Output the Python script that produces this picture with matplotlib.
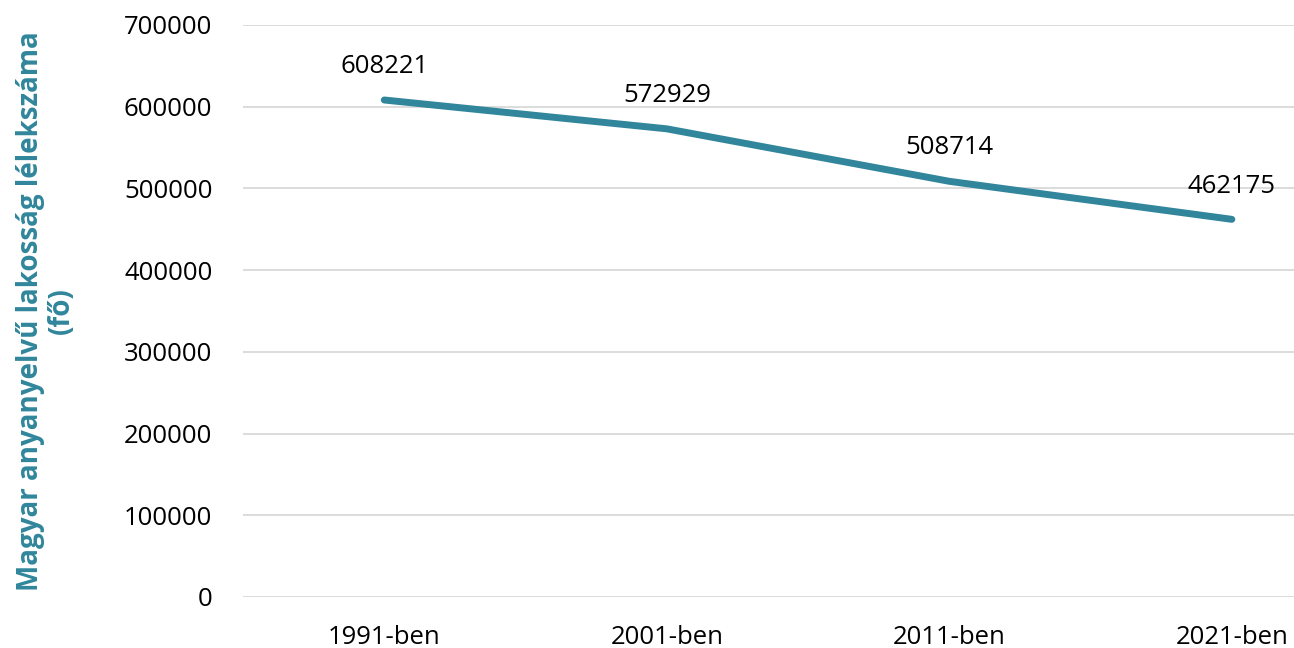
import matplotlib.pyplot as plt

# data
years = ['1991-ben', '2001-ben', '2011-ben', '2021-ben']
population = [608221, 572929, 508714, 462175]
yticks = [0, 100000, 200000, 300000, 400000, 500000, 600000, 700000]

teal = '#31869b'
plt.rcParams['font.family'] = ['Open Sans', 'DejaVu Sans']

fig = plt.figure(figsize=(12.94, 6.48), dpi=100)
ax = fig.add_axes([243 / 1294, 1 - 597 / 648, 1 - 243 / 1294, (597 - 25) / 648])

x = list(range(len(years)))
ax.plot(x, population, color=teal, linewidth=5, solid_capstyle='round', zorder=3)
for xi, v in zip(x, population):
    ax.annotate(str(v), (xi, v), xytext=(0, 15), textcoords='offset points',
                ha='center', va='bottom', fontsize=18.5, color='black')

ax.set_xlim(-0.5, 3.22)
ax.set_ylim(0, 700000)
ax.set_yticks(yticks)
ax.set_yticklabels([str(t) for t in yticks])
ax.set_xticks(x)
ax.set_xticklabels(years)
ax.tick_params(axis='both', length=0, labelsize=18.5, colors='black')
ax.tick_params(axis='y', pad=22)
ax.tick_params(axis='x', pad=20)
ax.grid(axis='y', color='#d9d9d9', linewidth=1.3)
ax.set_axisbelow(True)
for s in ax.spines.values():
    s.set_visible(False)

fig.text(46 / 1294, 1 - 311 / 648, 'Magyar anyanyelvű lakosság lélekszáma\n(fő)',
         rotation=90, ha='center', va='center', multialignment='center',
         fontsize=20, fontweight='bold', color=teal, linespacing=1.05)

fig.savefig('out.png', dpi=100)
